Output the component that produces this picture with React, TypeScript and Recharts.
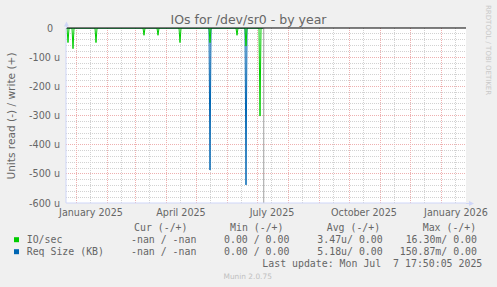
import { ComposedChart, Line, XAxis, YAxis, ReferenceLine } from "recharts";

// samples (daily), read side is drawn negative, values in micro units
const sampleDates = [
  "2024-12-22", "2024-12-23", "2024-12-24", "2024-12-25",
  "2024-12-28", "2024-12-29", "2024-12-30",
  "2025-01-20", "2025-01-21", "2025-01-22",
  "2025-03-09", "2025-03-10", "2025-03-11",
  "2025-03-23", "2025-03-24", "2025-03-25",
  "2025-04-14", "2025-04-15", "2025-04-16",
  "2025-05-14", "2025-05-15", "2025-05-16",
  "2025-06-10", "2025-06-11", "2025-06-12",
  "2025-06-19", "2025-06-20", "2025-06-21",
  "2025-07-03", "2025-07-04", "2025-07-05",
  "2025-07-07",
];
const ioPerSec = [
  0, 0, -50, 0,
  0, -71, 0,
  0, -50, 0,
  0, -25, 0,
  0, -25, 0,
  0, -50, 0,
  0, -50, 0,
  0, -25, 0,
  0, -62, 0,
  0, -302, 0,
  0,
];
const reqSizeKB = [
  0, 0, 0, 0,
  0, 0, 0,
  0, 0, 0,
  0, 0, 0,
  0, 0, 0,
  0, 0, 0,
  0, -487, 0,
  0, 0, 0,
  0, -538, 0,
  0, 0, 0,
  0,
];

const yTicks = [0, -100, -200, -300, -400, -500, -600];
const xLabelDates = ["2025-01-16", "2025-04-16", "2025-07-16", "2025-10-16", "2026-01-16"];
const monthNames = [
  "January", "February", "March", "April", "May", "June",
  "July", "August", "September", "October", "November", "December",
];
const lastUpdate = Date.UTC(2025, 6, 7, 17, 50, 5);

const legendHeaders = ["Cur (-/+)", "Min (-/+)", "Avg (-/+)", "Max (-/+)"];
const legendRows = [
  { name: "IO/sec", color: "#00cc00", cells: ["-nan / -nan", "0.00 / 0.00", "3.47u/ 0.00", "16.30m/ 0.00"] },
  { name: "Req Size (KB)", color: "#0066b3", cells: ["-nan / -nan", "0.00 / 0.00", "5.18u/ 0.00", "150.87m/ 0.00"] },
];

const start = Date.UTC(2024, 11, 22);
const end = Date.UTC(2026, 0, 26);

const data = sampleDates.map((d, i) => ({
  t: Date.parse(d),
  io: ioPerSec[i],
  req: reqSizeKB[i],
}));

// grid lines: month starts (major) and mid-month (minor)
const majorX: number[] = [];
const minorX: number[] = [];
for (let m = 0; m <= 12; m++) {
  majorX.push(Date.UTC(2025, m, 1));
  minorX.push(Date.UTC(2025, m, 15));
}
const majorY = [-100, -200, -300, -400, -500];
const minorY: number[] = [];
for (let v = -20; v > -600; v -= 20) if (v % 100 !== 0) minorY.push(v);

const SANS = "'DejaVu Sans', sans-serif";
const MONO = "'DejaVu Sans Mono', monospace";
const FONT = "#666666";
const AXIS = "#cfd6f8";

const fmtMonth = (t: number) => {
  const d = new Date(t);
  return `${monthNames[d.getUTCMonth()]} ${d.getUTCFullYear()}`;
};

const YTick = (props: any) => {
  const { x, y, payload } = props;
  const v = payload.value as number;
  return (
    <text
      x={v === 0 ? x - 7 : x}
      y={y}
      textAnchor="end"
      dominantBaseline="central"
      fontSize={9.6}
      fontFamily={SANS}
      fill={FONT}
    >
      {v === 0 ? "0" : `${v} u`}
    </text>
  );
};

const colX = [131, 224, 317.3, 404.3];
const headX = [134, 230, 326.7, 422.7];

export default function App() {
  return (
    <div style={{ position: "absolute", left: 0, top: 0, width: 497, height: 287, background: "#f0f0f0" }}>
      <div style={{ position: "absolute", left: 66, top: 28, width: 400, height: 175, background: "#ffffff" }} />
      <div style={{ position: "absolute", left: 0, top: 0 }}>
        <ComposedChart
          width={497}
          height={287}
          data={data}
          margin={{ top: 28, right: 31, bottom: 64, left: 0 }}
        >
          <XAxis
            dataKey="t"
            type="number"
            scale="linear"
            domain={[start, end]}
            allowDataOverflow
            ticks={xLabelDates.map((d) => Date.parse(d))}
            tickFormatter={fmtMonth}
            height={20}
            tickLine={false}
            tickSize={4}
            tickMargin={2}
            axisLine={{ stroke: AXIS }}
            tick={{ fontSize: 9.6, fontFamily: SANS, fill: FONT }}
            interval={0}
          />
          <YAxis
            type="number"
            domain={[-600, 0]}
            allowDataOverflow
            ticks={yTicks}
            width={66}
            tickLine={false}
            tickSize={4}
            tickMargin={2}
            axisLine={{ stroke: AXIS }}
            tick={YTick}
            interval={0}
          />
          {minorY.map((v) => (
            <ReferenceLine key={`my${v}`} y={v} stroke="#d2d2d2" strokeDasharray="1 1" shapeRendering="crispEdges" />
          ))}
          {minorX.map((v) => (
            <ReferenceLine key={`mx${v}`} x={v} stroke="#d2d2d2" strokeDasharray="1 1" shapeRendering="crispEdges" />
          ))}
          {majorY.map((v) => (
            <ReferenceLine key={`My${v}`} y={v} stroke="#eeb0b0" strokeDasharray="1 1" shapeRendering="crispEdges" />
          ))}
          {majorX.map((v) => (
            <ReferenceLine key={`Mx${v}`} x={v} stroke="#eeb0b0" strokeDasharray="1 1" shapeRendering="crispEdges" />
          ))}
          <Line
            dataKey="req"
            type="linear"
            stroke="#0066b3"
            strokeWidth={1}
            dot={false}
            activeDot={false}
            isAnimationActive={false}
          />
          <Line
            dataKey="io"
            type="linear"
            stroke="#00cc00"
            strokeWidth={1}
            dot={false}
            activeDot={false}
            isAnimationActive={false}
          />
          <ReferenceLine x={lastUpdate} stroke="#a0a0a0" />
          <ReferenceLine y={0} stroke="#000000" />
        </ComposedChart>
      </div>
      <svg
        width={497}
        height={287}
        style={{ position: "absolute", left: 0, top: 0, pointerEvents: "none" }}
      >
        {/* axis arrows */}
        <line x1={66.5} y1={28} x2={66.5} y2={24} stroke={AXIS} />
        <polygon points="64,26.5 69,26.5 66.5,21.5" fill={AXIS} />
        <line x1={466} y1={203.5} x2={469} y2={203.5} stroke={AXIS} />
        <polygon points="469,201 469,206 474,203.5" fill={AXIS} />

        <text x={248.5} y={19.3} textAnchor="middle" dominantBaseline="central" fontSize={12.5} fontFamily={SANS} fill={FONT}>
          IOs for /dev/sr0 - by year
        </text>
        <text
          transform="translate(10.8,116) rotate(-90)"
          textAnchor="middle"
          dominantBaseline="central"
          fontSize={10.6}
          fontFamily={SANS}
          fill={FONT}
        >
          Units read (-) / write (+)
        </text>
        <text
          transform="translate(488,5) rotate(90)"
          textAnchor="start"
          dominantBaseline="central"
          fontSize={7}
          fontFamily={SANS}
          fill="#c8c8c8"
        >
          RRDTOOL / TOBI OETIKER
        </text>

        {legendHeaders.map((h, i) => (
          <text key={h} x={headX[i]} y={227.7} dominantBaseline="central" fontSize={9.9} fontFamily={MONO} fill={FONT}>
            {h}
          </text>
        ))}
        {legendRows.map((r, ri) => {
          const y = 239.7 + ri * 12;
          return (
            <g key={r.name}>
              <rect x={14} y={y - 2.5} width={5} height={5} fill={r.color} />
              <text x={26.7} y={y} dominantBaseline="central" fontSize={9.9} fontFamily={MONO} fill={FONT} style={{ whiteSpace: "pre" }}>
                {r.name}
              </text>
              {r.cells.map((c, ci) => (
                <text
                  key={ci}
                  x={ci === 3 ? 477 : colX[ci]}
                  textAnchor={ci === 3 ? "end" : "start"}
                  y={y}
                  dominantBaseline="central"
                  fontSize={9.9}
                  fontFamily={MONO}
                  fill={FONT}
                  style={{ whiteSpace: "pre" }}
                >
                  {c}
                </text>
              ))}
            </g>
          );
        })}
        <text x={482.3} y={263.7} textAnchor="end" dominantBaseline="central" fontSize={9.9} fontFamily={MONO} fill={FONT} style={{ whiteSpace: "pre" }}>
          {"Last update: Mon Jul  7 17:50:05 2025"}
        </text>
        <text x={247.7} y={276} textAnchor="middle" dominantBaseline="central" fontSize={7.4} fontFamily={SANS} fill="#c0c0c0">
          Munin 2.0.75
        </text>
      </svg>
    </div>
  );
}
